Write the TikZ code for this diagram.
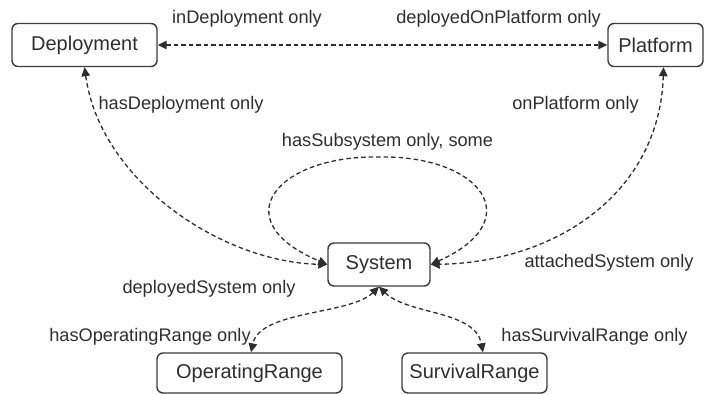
\documentclass[tikz,border=0pt]{standalone}
\usepackage{fontspec}
\setmainfont{Liberation Sans}
\usetikzlibrary{arrows.meta,calc}
\definecolor{ink}{HTML}{2E2E2E}
\definecolor{edge}{HTML}{3C3C3C}
\begin{document}
\begin{tikzpicture}[x=1pt,y=-1pt,
  cls/.style={draw=edge,line width=1.4pt,rounded corners=6pt,text=ink,inner sep=0pt,minimum height=43pt,font=\fontsize{20}{22}\selectfont},
  lbl/.style={text=ink,inner sep=0pt,font=\fontsize{18.2}{20}\selectfont},
  rel/.style={draw=ink,line width=1.3pt,dash pattern=on 4.5pt off 3pt,{Triangle[length=9pt,width=8.5pt]}-{Triangle[length=9pt,width=8.5pt]}}
]
\useasboundingbox (0,0) rectangle (708,395);
\node[cls,minimum width=145pt] (dep) at (84.5,45) {Deployment};
\node[cls,minimum width=95pt] (plat) at (655.5,45) {Platform};
\node[cls,minimum width=102pt] (sys) at (379,264.5) {System};
\node[cls,minimum width=185pt,minimum height=40pt] (op) at (249.5,373) {OperatingRange};
\node[cls,minimum width=145pt,minimum height=40pt] (surv) at (474.5,373) {SurvivalRange};

\draw[rel] (dep.east) -- (plat.west);
\draw[rel] (dep.south) .. controls (100,180) and (220,262) .. (sys.west);
\draw[rel] ([xshift=8pt]plat.south) .. controls (660,190) and (560,262) .. (sys.east);
\draw[rel] (sys.east) .. controls (530,220) and (480,155) .. (379,157)
  .. controls (278,155) and (222,220) .. (sys.west);
\draw[rel] (sys.south) .. controls (350,315) and (260,310) .. ([xshift=1.5pt]op.north);
\draw[rel] (sys.south) .. controls (408,315) and (475,310) .. ([xshift=8.5pt]surv.north);

\node[lbl] (l1) at (247,19) {inDeployment only};
\node[lbl] (l2) at (498.5,19) {deployedOnPlatform only};
\node[lbl] (l3) at (181,105) {hasDeployment only};
\node[lbl] (l4) at (575.5,105) {onPlatform only};
\node[lbl] (l5) at (387.5,142) {hasSubsystem only, some};
\node[lbl] (l6) at (609,263) {attachedSystem only};
\node[lbl] (l7) at (209,289) {deployedSystem only};
\node[lbl] (l8) at (150,337) {hasOperatingRange only};
\node[lbl] (l9) at (594.5,337) {hasSurvivalRange only};
\end{tikzpicture}
\end{document}
